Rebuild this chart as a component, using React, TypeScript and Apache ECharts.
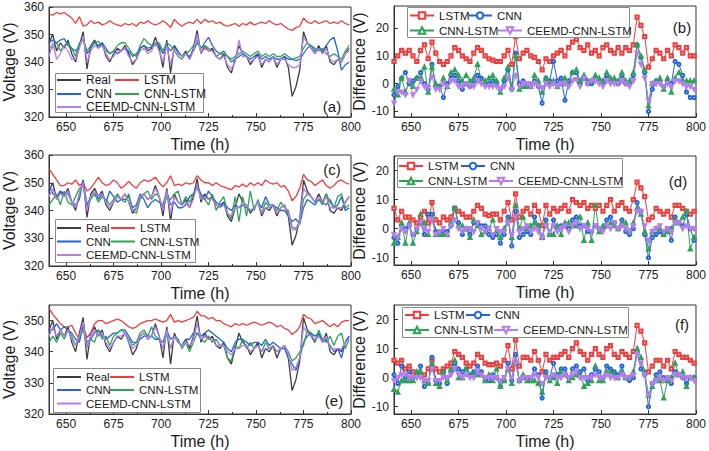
import React, { useEffect, useRef } from "react";
import * as echarts from "echarts";

const hours = [
  641, 643, 645, 647, 649, 651, 653, 655, 657, 659,
  661, 663, 665, 667, 669, 671, 673, 675, 677, 679,
  681, 683, 685, 687, 689, 691, 693, 695, 697, 699,
  701, 703, 705, 707, 709, 711, 713, 715, 717, 719,
  721, 723, 725, 727, 729, 731, 733, 735, 737, 739,
  741, 743, 745, 747, 749, 751, 753, 755, 757, 759,
  761, 763, 765, 767, 769, 771, 773, 775, 777, 779,
  781, 783, 785, 787, 789, 791, 793, 795, 797, 799,
];

const xTicks = [650, 675, 700, 725, 750, 775, 800];
const xMinorTicks = [662.5, 687.5, 712.5, 737.5, 762.5, 787.5];

// Measured voltage (shared by panels a, c, e)
const real = [
  347, 350, 344, 347, 345, 348, 343, 340, 346, 351,
  337.5, 346, 348, 345, 347, 342, 340, 343, 345, 344,
  346, 343, 339, 341, 345, 346, 344, 345, 349, 345,
  338, 348, 336, 346, 343, 342, 344, 341, 345, 351.5,
  343, 346, 344, 345, 342, 341, 343, 338, 336, 341,
  346, 343, 342, 339, 341, 343, 338, 341, 340, 342,
  338, 341, 342, 338, 327.5, 331, 337, 351, 347, 345,
  343, 346, 343, 346, 340, 339, 341, 340, 343, 345,
];

// Panel (a)
const lstmA = [
  357.5, 357, 358, 357.5, 358, 357, 356, 354, 356.5, 353,
  353.5, 355, 354, 354.5, 353.5, 354, 355, 354, 353.5, 353,
  354, 353.5, 354, 353, 354.5, 354, 355, 354, 353.5, 354,
  355, 354, 352.5, 355.5, 354, 353, 354, 354.5, 354, 355.5,
  354, 355.5, 354.5, 355, 354, 354.5, 353.5, 353, 353.5, 354,
  353, 354, 353.5, 354.5, 353.5, 354, 354.5, 354, 355, 354,
  353.5, 354, 353, 352, 351.5, 352.5, 353, 356, 354.5, 354,
  355, 354, 354.5, 355, 354, 354.5, 354, 355, 354, 353.5,
];
const cnnA = [
  347, 348, 347, 348, 348.5, 346, 345, 344, 346, 349,
  343, 345, 347, 346, 347, 345, 343, 344, 343, 344,
  345, 344, 342, 343, 345, 346, 345, 345.5, 347, 346,
  343, 346, 344, 346, 344, 342, 343, 342, 344, 347,
  345, 347, 349, 346, 344, 343, 344, 342, 340, 341,
  342, 343, 342, 341, 342, 343, 341, 342, 341, 342,
  341, 341, 342, 341, 341, 340.5, 341, 343, 345, 346,
  344, 345, 344, 346, 348, 349, 344, 337, 339, 340,
];
const cnnLstmA = [
  346, 345, 347, 344, 346, 347, 345, 342, 347, 348,
  344, 346, 347, 347.5, 346, 344, 343, 344, 346, 347,
  347, 345, 343, 342, 346, 348.5, 347, 346, 346, 347,
  344, 347, 346, 344, 342, 341, 343, 344, 346, 348,
  345, 346, 345, 344, 342, 343, 343, 342, 341, 342,
  343, 344, 343, 342, 343, 344, 342, 343, 342, 343,
  342, 342, 343, 342, 341, 341.5, 342, 345, 347, 346,
  345, 344, 345, 343, 342, 343, 342, 341, 344, 346,
];
const ceemdA = [
  342, 347, 341, 343, 346, 344, 341, 341, 345, 349.5,
  340, 344, 346, 345, 346, 343, 341, 342, 344, 344,
  345, 342, 340, 341, 344, 345, 343, 344, 347, 344,
  340, 346, 339, 345, 343, 342, 343, 341, 344, 350,
  343, 345, 344, 344, 342, 341, 342, 339, 337.5, 340,
  348, 342, 342, 340, 341, 342, 339, 341, 340, 342,
  339, 341, 341, 339, 338, 338, 339, 349, 347, 345,
  343, 345, 343, 345, 341, 340, 341, 340, 343, 344,
];

// Panel (b)
const lstmDiffB = [
  8, 10, 12, 11, 12, 10, 8, 12, 14, 9,
  15, 11, 8, 7, 8, 10, 13, 12, 10, 9,
  8, 11, 13, 12, 10, 9, 8.5, 8, 8, 10,
  12, 7, 17, 9, 11, 12, 10, 9.5, 8, 5,
  9, 8, 10, 11, 12, 10, 13, 15, 16, 13,
  12, 14, 11, 12, 10, 13, 14, 12, 11, 13,
  11, 13, 12, 14, 24, 21, 17, 6, 9, 12,
  11, 9, 12, 10, 14, 13, 11, 13, 10, 10,
];
const cnnDiffB = [
  -4, -1, 2, 4, 0, 1, 2, 4, 0, -2,
  7, -1, -1, -5, 0, 3, 3, 1, -2, 0,
  -1, 1, 3, 2, 0, 0, 1, 0.5, -2, 1,
  5, -2, 11, 0, 1, 0, -1, 1, -1, -7,
  2, 1, 8, 1, 2, -6, 1, 4, 4, 0,
  2, 0, 0, 2, 1, 0, 3, 1, 1, 0,
  3, 0, 0, 3, 14, 9.5, 4, -10, -2, 1,
  1, -1, 1, 0, 8, 7, 3, -3, -5, -5,
];
const cnnLstmDiffB = [
  -2, -4, 2, -3, 1, -1, 2, 2, 6, -3,
  6, 0, -1, 2, -1, 4, 5, 3, 1, 3,
  1, 2, 7, 1, 1, 2, 3, 1, -3, 2,
  6, -1, 10, -2, -1, -1, -1, 3, 1, -3,
  2, 0, 1, -1, 0, 2, 0, 4, 5, 1,
  3, 1, 1, 3, 2, 1, 4, 2, 2, 1,
  4, 1, 1, 4, 14, 10, 5, -8, 0, 1,
  2, -2, 2, -3, 2, 4, 1, 1, 1, 1,
];
const ceemdDiffB = [
  -7, -3, -3, -4, 1, -4, -2, 1, -1, -1.5,
  2.5, -2, -2, 0, -1, 1, 1, -1, -1, 0,
  -1, -1, 1, 0, -1, -1, -1, -1, -2, -1,
  2, -2, 3, -1, 0, 0, -1, 0, -1, -1.5,
  0, -1, 0, -1, 0, 0, -1, 1, 1.5, -1,
  2, 0, 1, 1, 0, -1, 1, 0, 0, 0,
  1, 0, -1, 1, 11, 7, 2, -6, 0, 0,
  0, -1, 0, -1, 1, 1, 0, -1, -1, -2,
];

// Panel (c)
const lstmC = [
  355, 353, 351, 349, 349, 350, 349.5, 351, 349, 350,
  347, 348, 350, 352, 350, 349, 349.5, 351, 350, 348,
  349, 350.5, 349, 348, 350, 351, 350.5, 351, 352, 350,
  348.5, 350, 352.5, 349, 349.5, 349, 350, 349.5, 350, 352.5,
  351, 350, 350, 349, 350, 349, 348.5, 348, 347.5, 349,
  348.5, 349.5, 348.5, 350, 349, 350, 349, 351, 350, 349.5,
  350, 348.5, 349, 347, 343.5, 345, 348, 353, 351, 350.5,
  349, 350, 351, 349, 348, 349, 350.5, 351, 350, 349.5,
];
const cnnC = [
  349, 346, 345, 347, 346, 346, 343, 342, 344, 351,
  342, 345, 347, 344, 346, 343, 347, 345, 343, 344,
  344, 345, 341, 342, 346, 344, 341, 343, 344, 343,
  342, 347, 342, 343, 341, 341, 342, 345, 346, 349,
  346, 344, 347, 345, 343, 342, 343, 341, 340, 342,
  341, 342, 341, 340, 341, 343, 341, 345, 342, 342,
  341, 340, 340, 338, 336, 337, 335, 341, 344, 343,
  342, 344, 343, 342, 344, 341, 342, 345, 340, 341,
];
const cnnLstmC = [
  342, 344, 346, 342, 347, 343, 342, 345, 348, 349,
  341, 344, 346, 343, 345, 344, 342, 344, 346, 344,
  343, 346, 340, 339, 344, 346, 347, 344, 346, 345,
  341, 345, 344, 346, 347, 342, 345, 343, 346, 348,
  345, 344, 342, 346, 340, 343, 345, 339, 337, 345,
  336, 345, 338, 347, 340, 344, 339, 343, 341, 342,
  340, 343, 341, 340, 334, 333.5, 336, 344, 346, 345,
  343, 344, 342, 346, 343, 341, 345, 346, 341, 342,
];
const ceemdC = [
  345, 348, 344, 346, 345, 347, 343, 341, 346, 350,
  340, 345, 347, 345, 346, 343, 341, 343, 345, 344,
  346, 343, 340, 341, 345, 346, 344, 345, 348, 345,
  340, 347, 339, 345, 343, 342, 343, 341, 344, 349,
  344, 345, 344, 344, 342, 341, 342, 339, 338, 341,
  341, 343, 342, 340, 341, 343, 339, 341, 341, 342,
  339, 341, 342, 339, 333, 333, 336, 348, 346, 345,
  343, 345, 343, 345, 341, 341, 341, 341, 343, 345,
];

// Panel (d)
const lstmDiffD = [
  7, 3, 6, 4, 4, 3, 2, 4, 6, 2,
  9, 3, 2, 4, 3, 4, 7, 6, 5, 4,
  4, 6, 8, 7, 5, 4.5, 5, 5, 3, 6,
  9, 3, 12, 4, 6, 7, 5, 8, 6, 1,
  8, 5, 7, 6, 7, 8, 6, 10, 9, 8,
  9, 7, 8, 7, 8, 6, 8, 10, 6, 8,
  9, 7, 6, 10, 16, 14, 11, 3, 4, 7,
  6, 5, 6, 4, 8, 8, 7, 6, 5, 6,
];
const cnnDiffD = [
  -3, -5, 1, 0, 1, -2, 0, 2, -2, 5,
  5, -1, -1, -1, -1, 1, 7, 2, -2, 0,
  -2, 2, 2, 1, 1, -2, -3, -2, -5, -2,
  4, -6, 6, -3, -2, -1, -2, 4, 1, -3,
  3, -2, 3, 0, 1, 1, 0, 3, 4, 1,
  1, -1, -1, 1, 0, 0, 3, 4, 2, 0,
  3, -1, -2, 0, 9, 6, -2, -10, -3, -2,
  -1, -2, 0, -4, 4, 2, 1, 5, 0, -4,
];
const cnnLstmDiffD = [
  -5, -3, 2, -5, 2, -5, -1, 5, 2, -2,
  4, -2, -2, -2, -2, 2, 7, 1, 1, 0,
  -3, 3, 1, -2, -1, 0, 3, -1, -3, 0,
  3, -3, 8, 0, 4, 0, 1, 2, 1, -3,
  2, -2, -2, 1, -2, 2, 2, 1, 1, 4,
  -4, 2, -4, 8, -1, 1, 1, 2, 1, 0,
  2, 2, -1, 2, 7, 5, -1, -7, -1, 0,
  0, -2, -1, 0, 3, 2, 4, 6, -7, -3,
];
const ceemdDiffD = [
  -2, -3, 0, -1, 1, -2, 0, 2, 0, -1,
  3, -2, -1, 0, -2, 1, 3, 0, -1, 0,
  0, -1, 2, 0, -1, 0, -2, 0, -1, -1,
  2, -2, 4, -1, 0, 1, -1, 0, -1, -3,
  1, -1, 1, -1, 0, 1, -1, 1, 2, 0,
  1, 0, -1, 1, 0, -1, 1, 0, 2, 0,
  1, 0, -1, 1, 6, 6, 1, -4, -1, 0,
  1, -1, 0, -1, 2, 2, 0, 1, 0, 0,
];

// Panel (e)
const lstmE = [
  354, 352, 350.5, 349, 348, 348, 348.5, 346, 344, 348,
  344.5, 346, 349, 350, 350, 349, 349.5, 350, 350.5, 350,
  349, 348, 347.5, 348, 349, 349.5, 350, 350, 350.5, 350,
  349.5, 350, 352, 349.5, 350, 349.5, 350, 350.5, 351, 353,
  351.5, 351.5, 350.5, 351, 350, 350, 349, 348.5, 348, 349,
  348.5, 349, 348.5, 349, 349.5, 349, 348.5, 349, 349.5, 349,
  348, 348.5, 347.5, 347, 345.5, 346.5, 348, 352, 351, 350.5,
  349, 349.5, 350, 349, 348, 349, 348, 349.5, 350, 350,
];
const cnnE = [
  347, 347, 349, 347, 348, 347, 346, 344, 343, 349,
  343, 344, 346, 347, 345, 344, 345, 346, 346, 347,
  347, 345, 343, 343, 344, 345, 345, 345, 344, 344,
  343, 347, 344, 345, 343, 342, 344, 344, 346, 346,
  345, 346, 347, 346, 345, 344, 343, 341, 340, 343,
  344, 344, 343, 342, 343, 343, 342, 344, 342, 343,
  342, 341, 341, 338, 336, 334, 338, 343, 345, 346,
  345, 346, 343, 344, 342, 340, 341, 338, 343, 345,
];
const cnnLstmE = [
  343, 345, 343, 346, 344, 347, 345, 342, 345, 347,
  342, 344, 343, 347, 344, 345, 342, 345, 346, 347,
  346, 344, 342, 343, 346, 347, 345, 348, 345, 344,
  341, 346, 341, 345, 344, 341, 343, 340, 343, 346,
  344, 343, 345, 343, 344, 342, 342, 338, 337, 342,
  341, 344, 341, 343, 341, 342, 340, 343, 341, 342,
  340, 341, 342, 340, 337, 338, 340, 342, 347, 346,
  343, 347, 344, 343, 345, 342, 345, 346, 341, 344,
];
const ceemdE = [
  345, 348, 345, 347, 345, 347, 344, 342, 345, 349.5,
  341, 345, 347, 345, 346, 343, 341, 343, 345, 345,
  346, 343, 341, 342, 345, 346, 344, 345, 348, 345,
  341, 347, 341, 345, 343, 342, 343, 342, 344, 349,
  344, 345, 344, 344, 342, 342, 342, 340, 339, 341,
  341, 342, 342, 340, 341, 342, 340, 341, 341, 342,
  340, 341, 342, 339, 334, 335, 338, 348, 346, 345,
  344, 345, 343, 345, 341, 341, 341, 341, 343, 344,
];

// Panel (f)
const lstmDiffF = [
  6, 5, 6, 3, 4, 2, 1, 1, 1, 3,
  6, 3, 2, 3, 4, 5, 9, 8, 7, 5,
  4, 5, 8, 7, 5, 4.5, 4.5, 5, 4, 6,
  11, 3, 13, 4, 7, 7, 6, 9, 6, 2,
  8, 6, 7, 7, 8, 9, 7, 10, 12, 9,
  8, 6, 8, 10, 8, 7, 10, 11, 8, 7,
  9, 8, 7, 9, 18, 16, 12, 2, 4, 6,
  6, 4, 6, 3, 9, 8, 7, 7, 6, 5,
];
const cnnDiffF = [
  1, -2, 4, 0, 2, 0, 1, 4, -3, -2,
  7, -1, -2, 2, -2, 2, 5, 3, 2, 3,
  1, 2, 4, 2, -1, -1, 1, 0, -3, -1,
  5, -1, 8, -1, 0, 0, 0, 3, 1, -7,
  2, 0, 5, 1, 3, 3, 0, 3, 4, 2,
  3, -1, 1, 3, 2, 0, 4, 3, 2, 1,
  4, 0, -1, 0, 9, 3, 1, -10, -2, 1,
  2, 0, 0, -2, 2, 1, 0, -2, 0, 0,
];
const cnnLstmDiffF = [
  -4, -5, -1, -1, -1, -1, 2, 2, -1, -2,
  5, -2, -3, 2, -1, 3, 6, 0, 0, 3,
  1, 1, 1, 1, -1, 1, -1, 3, -3, -1,
  3, -2, 5, -1, 1, -1, -1, -1, -2, -5,
  1, -1, 0, -2, 2, 1, -1, 0, 1, 1,
  -3, -2, -1, 4, -1, -1, 2, 2, 1, 0,
  2, 0, 0, 2, 10, 7, 2, -6, -3, 0,
  -1, -7, -1, 0, 5, 1, 2, -3, 0, 0,
];
const ceemdDiffF = [
  -1, 0, 1, 1, 0, 0, 0, 0, -1, -1,
  3, -1, -1, 0, 0, 1, 3, 1, 0, 1,
  0, 0, 2, 1, 0, 0, 0, 0, -1, 0,
  3, 0, 5, -1, 0, 0, 0, 1, 0, -2,
  0, 0, 1, 0, 0, 1, 0, 1, 2, 0,
  0, 0, 0, 1, 0, 0, 1, 0, 0, 0,
  1, 0, 0, 1, 8, 5, 1, -6, -2, -1,
  0, -1, 0, -1, 1, 1, 0, 0, 0, -1,
];

const FONT = "Arial, 'Liberation Sans', Helvetica, sans-serif";
const TXT = "#1a1a1a";
const AX = "#333333";
const C_REAL = "#3d3d3d";
const C_LSTM = "#f23b3b";
const C_CNN = "#2163dd";
const C_CNNLSTM = "#2ea356";
const C_CEEMD = "#b77cf0";

const pairs = (ys: number[]) => hours.map((h, i) => [h, ys[i]]);

const voltPanels = [
  {
    id: "a", grid: { left: 49, top: 7, width: 302, height: 110 }, yMax: 360,
    yTicks: [320, 330, 340, 350, 360],
    lstm: lstmA, cnn: cnnA, cnnLstm: cnnLstmA, ceemd: ceemdA,
    label: [332, 106], box: [55, 73, 148, 39], rows: [80, 94, 107], col2: 115, font: 12,
  },
  {
    id: "c", grid: { left: 49, top: 155, width: 302, height: 111 }, yMax: 360,
    yTicks: [320, 330, 340, 350, 360],
    lstm: lstmC, cnn: cnnC, cnnLstm: cnnLstmC, ceemd: ceemdC,
    label: [332, 169], box: [55, 219, 140, 43], rows: [228, 241.5, 255], col2: 111, font: 11.5,
  },
  {
    id: "e", grid: { left: 49, top: 305, width: 302, height: 109 }, yMax: 355,
    yTicks: [320, 330, 340, 350],
    lstm: lstmE, cnn: cnnE, cnnLstm: cnnLstmE, ceemd: ceemdE,
    label: [334, 400], box: [53, 368, 147, 44], rows: [377, 390, 403.5], col2: 110, font: 11.5,
  },
];

const diffPanels = [
  {
    id: "b", grid: { left: 394, top: 6, width: 303, height: 111 }, yMin: -12, yMax: 28,
    lstm: lstmDiffB, cnn: cnnDiffB, cnnLstm: cnnLstmDiffB, ceemd: ceemdDiffB,
    label: [682, 27], box: [407, 7, 222, 30], rows: [15.5, 30.5], xs: [409, 467, 409, 497],
  },
  {
    id: "d", grid: { left: 394, top: 156, width: 303, height: 109 }, yMin: -12.5, yMax: 25,
    lstm: lstmDiffD, cnn: cnnDiffD, cnnLstm: cnnLstmDiffD, ceemd: ceemdDiffD,
    label: [678, 181], box: [397, 158, 225, 29], rows: [166, 181], xs: [398, 460, 398, 488],
  },
  {
    id: "f", grid: { left: 394, top: 305, width: 303, height: 109 }, yMin: -12.5, yMax: 25,
    lstm: lstmDiffF, cnn: cnnDiffF, cnnLstm: cnnLstmDiffF, ceemd: ceemdDiffF,
    label: [682, 324], box: [402, 307, 226, 30], rows: [315, 330], xs: [404, 465, 404, 493],
  },
];

function buildOption() {
  const grids: any[] = [];
  const xAxes: any[] = [];
  const yAxes: any[] = [];
  const minorX: any[] = [];
  const series: any[] = [];
  const legends: any[] = [];
  const graphics: any[] = [];

  const tickLabel = { fontSize: 12, color: TXT, fontFamily: FONT };
  const nameStyle = { fontSize: 16, color: TXT, fontFamily: FONT };

  const addGrid = (g: any) => {
    grids.push({ ...g, show: true, borderColor: AX, borderWidth: 1, backgroundColor: "transparent" });
    return grids.length - 1;
  };

  const addXAxis = (gi: number) => {
    xAxes.push({
      type: "value", gridIndex: gi, min: 641, max: 800,
      axisLine: { show: true, onZero: false, lineStyle: { color: AX, width: 1 } },
      axisTick: { show: true, inside: true, length: 4, customValues: xTicks, lineStyle: { color: AX } },
      axisLabel: { ...tickLabel, margin: 4, customValues: xTicks },
      splitLine: { show: false },
      name: "Time (h)", nameLocation: "middle", nameGap: 19, nameTextStyle: nameStyle,
    });
    minorX.push({
      type: "value", gridIndex: gi, min: 641, max: 800, position: "bottom",
      axisLine: { show: false },
      axisTick: { show: true, inside: true, length: 2, customValues: xMinorTicks, lineStyle: { color: AX } },
      axisLabel: { show: false }, splitLine: { show: false },
    });
  };

  const addLegendItem = (name: string, x: number, rowC: number, font: number, lineOnly: boolean) => {
    const base: any = {
      show: true, data: [name], left: x, padding: 0,
      itemWidth: 24, itemGap: 0, selectedMode: false, z: 10,
      formatter: (n: string) => n.split("|")[1],
      textStyle: { fontSize: font, color: TXT, fontFamily: FONT, lineHeight: 12 },
    };
    if (lineOnly) {
      base.icon = "rect";
      base.itemHeight = 2;
    } else {
      base.itemHeight = 8;
    }
    base.top = rowC - 6;
    legends.push(base);
  };

  const addBox = (b: number[]) => {
    graphics.push({
      type: "rect", z: 5, shape: { x: b[0] + 0.5, y: b[1] + 0.5, width: b[2], height: b[3] },
      style: { fill: "#ffffff", stroke: "#8a8a8a", lineWidth: 1 },
    });
  };

  const addLabel = (id: string, p: number[]) => {
    graphics.push({
      type: "text", z: 6, x: p[0], y: p[1],
      style: { text: `(${id})`, fontSize: 15, fontFamily: FONT, fill: TXT, textAlign: "center", textVerticalAlign: "middle" },
    });
  };

  voltPanels.forEach((p) => {
    const gi = addGrid(p.grid);
    addXAxis(gi);
    yAxes.push({
      type: "value", gridIndex: gi, min: 320, max: p.yMax,
      axisLine: { show: true, onZero: false, lineStyle: { color: AX } },
      axisTick: { show: true, inside: true, length: 4, customValues: p.yTicks, lineStyle: { color: AX } },
      axisLabel: { ...tickLabel, margin: 5, customValues: p.yTicks },
      splitLine: { show: false },
      name: "Voltage (V)", nameLocation: "middle", nameGap: 32, nameTextStyle: nameStyle,
    });
    const mk = (nm: string, data: number[], color: string, w: number) => ({
      type: "line", name: `${p.id}|${nm}`, xAxisIndex: gi, yAxisIndex: gi, data: pairs(data),
      symbol: "none", lineStyle: { width: w, color }, itemStyle: { color }, silent: true, z: 2,
    });
    series.push(mk("Real", real, C_REAL, 1.3));
    series.push(mk("LSTM", p.lstm, C_LSTM, 1.3));
    series.push(mk("CNN", p.cnn, C_CNN, 1.3));
    series.push(mk("CNN-LSTM", p.cnnLstm, C_CNNLSTM, 1.3));
    series.push(mk("CEEMD-CNN-LSTM", p.ceemd, C_CEEMD, 1.3));
    addBox(p.box);
    addLegendItem(`${p.id}|Real`, 57, p.rows[0], p.font, true);
    addLegendItem(`${p.id}|LSTM`, p.col2, p.rows[0], p.font, true);
    addLegendItem(`${p.id}|CNN`, 57, p.rows[1], p.font, true);
    addLegendItem(`${p.id}|CNN-LSTM`, p.col2, p.rows[1], p.font, true);
    addLegendItem(`${p.id}|CEEMD-CNN-LSTM`, 57, p.rows[2], p.font, true);
    addLabel(p.id, p.label);
  });

  diffPanels.forEach((p) => {
    const gi = addGrid(p.grid);
    addXAxis(gi);
    const ticks = [-10, 0, 10, 20];
    yAxes.push({
      type: "value", gridIndex: gi, min: p.yMin, max: p.yMax,
      axisLine: { show: true, onZero: false, lineStyle: { color: AX } },
      axisTick: { show: true, inside: true, length: 4, customValues: ticks, lineStyle: { color: AX } },
      axisLabel: { ...tickLabel, margin: 5, customValues: ticks },
      splitLine: { show: false },
      name: "Difference (V)", nameLocation: "middle", nameGap: 22, nameTextStyle: nameStyle,
    });
    const mk = (nm: string, data: number[], color: string, symbol: string, rot = 0) => ({
      type: "line", name: `${p.id}|${nm}`, xAxisIndex: gi, yAxisIndex: gi, data: pairs(data),
      symbol, symbolSize: 3.2, symbolRotate: rot, showSymbol: true,
      lineStyle: { width: 1, color }, itemStyle: { color, borderWidth: 0.8 }, silent: true, z: 2,
    });
    series.push(mk("LSTM", p.lstm, C_LSTM, "emptyRect"));
    series.push(mk("CNN", p.cnn, C_CNN, "emptyCircle"));
    series.push(mk("CNN-LSTM", p.cnnLstm, C_CNNLSTM, "emptyTriangle"));
    series.push(mk("CEEMD-CNN-LSTM", p.ceemd, C_CEEMD, "emptyTriangle", 180));
    addBox(p.box);
    addLegendItem(`${p.id}|LSTM`, p.xs[0], p.rows[0], 11.5, false);
    addLegendItem(`${p.id}|CNN`, p.xs[1], p.rows[0], 11.5, false);
    addLegendItem(`${p.id}|CNN-LSTM`, p.xs[2], p.rows[1], 11.5, false);
    addLegendItem(`${p.id}|CEEMD-CNN-LSTM`, p.xs[3], p.rows[1], 11.5, false);
    addLabel(p.id, p.label);
  });

  return {
    animation: false,
    backgroundColor: "#ffffff",
    textStyle: { fontFamily: FONT },
    grid: grids,
    xAxis: [...xAxes, ...minorX],
    yAxis: yAxes,
    legend: legends,
    graphic: { elements: graphics },
    series,
  };
}

export default function App() {
  const ref = useRef<HTMLDivElement>(null);
  useEffect(() => {
    const chart = echarts.init(ref.current!, null, { renderer: "svg" });
    chart.setOption(buildOption() as any);
    return () => chart.dispose();
  }, []);
  return (
    <div
      ref={ref}
      style={{ position: "fixed", left: 0, top: 0, width: 709, height: 451, background: "#ffffff" }}
    />
  );
}
